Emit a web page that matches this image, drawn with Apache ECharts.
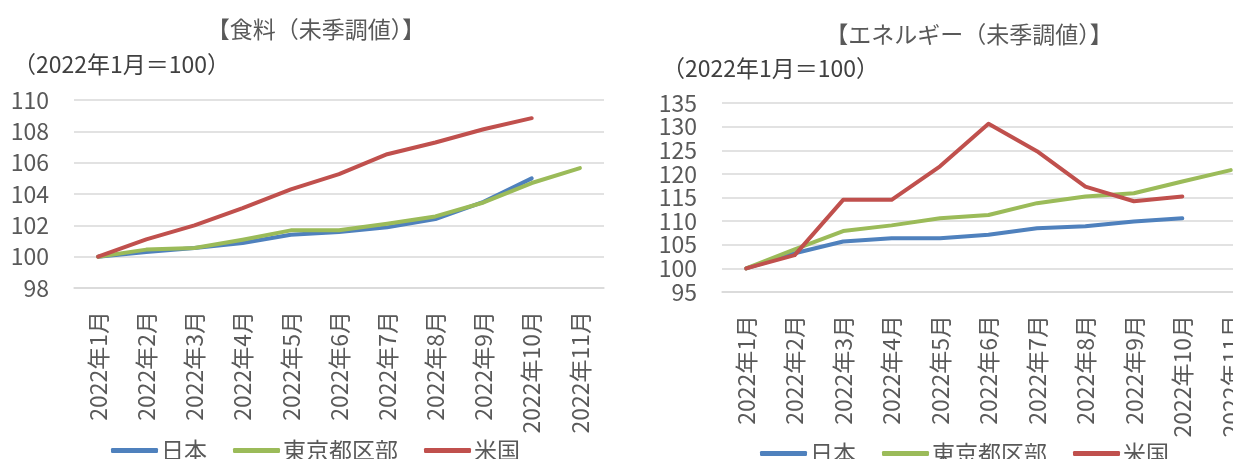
<!DOCTYPE html>
<html>
<head>
<meta charset="utf-8">
<script src="https://cdn.jsdelivr.net/npm/echarts@6/dist/echarts.min.js"></script>
<style>
  html, body { margin: 0; padding: 0; background: #fff; overflow: hidden; }
  /* the energy panel runs past the right edge of the window, so the canvas is wider */
  #chart { width: 1262px; height: 459px; }
</style>
</head>
<body>
<div id="chart"></div>
<script>
// Months on the category axis (both panels)
const months = ['2022年1月', '2022年2月', '2022年3月', '2022年4月', '2022年5月', '2022年6月',
                '2022年7月', '2022年8月', '2022年9月', '2022年10月', '2022年11月'];

// Food index (2022年1月 = 100)
const foodJapan = [100, 100.3, 100.55, 100.87, 101.4, 101.57, 101.87, 102.4, 103.5, 105.0, null];
const foodTokyo = [100, 100.45, 100.55, 101.08, 101.68, 101.68, 102.1, 102.57, 103.46, 104.7, 105.65];
const foodUS    = [100, 101.1, 102.0, 103.1, 104.3, 105.27, 106.54, 107.29, 108.13, 108.84, null];

// Energy index (2022年1月 = 100)
const energyJapan = [100, 103.2, 105.7, 106.4, 106.4, 107.1, 108.5, 108.9, 109.9, 110.6, null];
const energyTokyo = [100, 104.0, 107.9, 109.1, 110.6, 111.3, 113.8, 115.2, 115.9, 118.4, 120.8];
const energyUS    = [100, 102.8, 114.5, 114.5, 121.6, 130.6, 124.8, 117.3, 114.2, 115.2, null];

const seriesNames = ['日本', '東京都区部', '米国'];
const colors = ['#4F81BD', '#9BBB59', '#C0504D'];

const FONT = '"Noto Sans CJK JP", "Noto Sans", sans-serif';
const TEXT = '#595959';

function xAxisFor(gridIndex) {
  return {
    type: 'category', gridIndex, data: months,
    axisLine: { show: true, lineStyle: { color: '#d9d9d9', width: 1.5 } },
    axisTick: { show: false },
    axisLabel: { rotate: 90, margin: 23, color: TEXT, fontSize: 23, fontFamily: FONT, interval: 0 }
  };
}
function yAxisFor(gridIndex, min, max, interval) {
  return {
    type: 'value', gridIndex, min, max, interval,
    axisLine: { show: false }, axisTick: { show: false },
    splitLine: { lineStyle: { color: '#d9d9d9', width: 1.5 } },
    axisLabel: { color: TEXT, fontSize: 23, fontFamily: FONT, margin: 25 }
  };
}
function lineSeries(name, data, idx, axisIdx) {
  return {
    name, type: 'line', data, xAxisIndex: axisIdx, yAxisIndex: axisIdx,
    symbol: 'none', connectNulls: false, animation: false,
    lineStyle: { color: colors[idx], width: 4, cap: 'round', join: 'round' },
    itemStyle: { color: colors[idx] }
  };
}
function legendFor(left, top) {
  return {
    data: seriesNames, left, top, itemWidth: 47, itemHeight: 5, icon: 'roundRect',
    itemGap: 26, textStyle: { color: TEXT, fontSize: 23, fontFamily: FONT, padding: [0, 0, 0, -2] }
  };
}

const chart = echarts.init(document.getElementById('chart'), null, { renderer: 'canvas' });
chart.setOption({
  animation: false,
  title: [
    { text: '【食料（未季調値）】', left: 311, top: 13, textAlign: 'center',
      textStyle: { color: TEXT, fontSize: 23, fontWeight: 'normal', fontFamily: FONT } },
    { text: '（2022年1月＝100）', left: 8, top: 48,
      textStyle: { color: '#404040', fontSize: 23, fontWeight: 'normal', fontFamily: FONT } },
    { text: '【エネルギー（未季調値）】', left: 964, top: 18, textAlign: 'center',
      textStyle: { color: TEXT, fontSize: 23, fontWeight: 'normal', fontFamily: FONT } },
    { text: '（2022年1月＝100）', left: 657, top: 52,
      textStyle: { color: '#404040', fontSize: 23, fontWeight: 'normal', fontFamily: FONT } }
  ],
  legend: [legendFor(106, 434), legendFor(755, 437)],
  grid: [
    { left: 74, width: 530, top: 100, height: 188 },
    { left: 722, width: 533, top: 103, height: 189 }
  ],
  xAxis: [xAxisFor(0), xAxisFor(1)],
  yAxis: [yAxisFor(0, 98, 110, 2), yAxisFor(1, 95, 135, 5)],
  series: [
    lineSeries('日本', foodJapan, 0, 0),
    lineSeries('東京都区部', foodTokyo, 1, 0),
    lineSeries('米国', foodUS, 2, 0),
    lineSeries('日本', energyJapan, 0, 1),
    lineSeries('東京都区部', energyTokyo, 1, 1),
    lineSeries('米国', energyUS, 2, 1)
  ]
});
</script>
</body>
</html>
